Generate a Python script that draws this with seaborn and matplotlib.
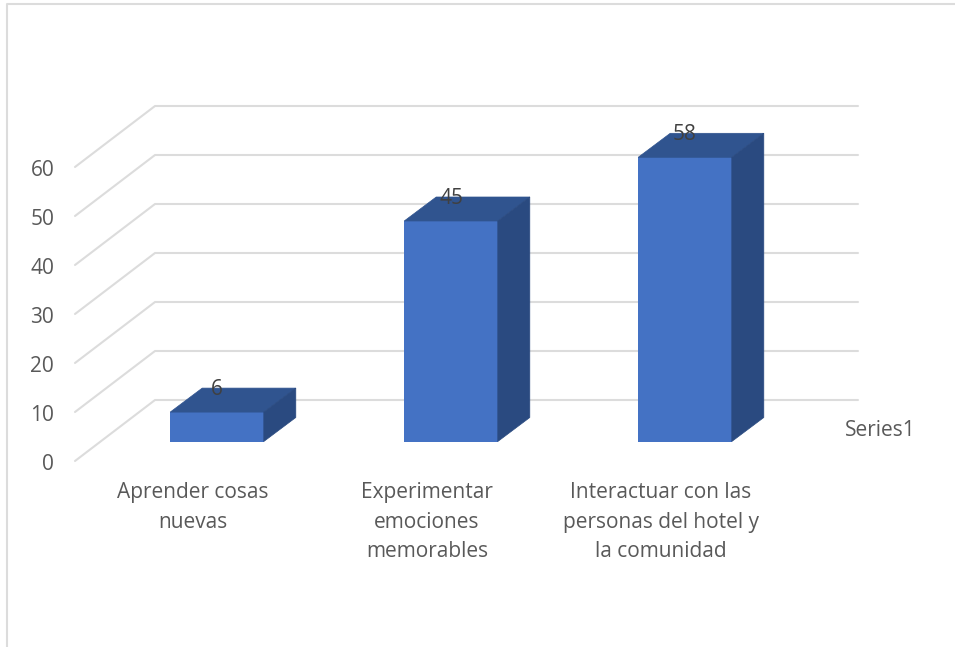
import matplotlib
matplotlib.use("Agg")
import matplotlib.pyplot as plt
import numpy as np
import pandas as pd
import seaborn as sns
from matplotlib.lines import Line2D
from matplotlib.patches import Polygon
from matplotlib.transforms import IdentityTransform, ScaledTranslation

categories = ["Aprender cosas\nnuevas", "Experimentar\nemociones\nmemorables",
              "Interactuar con las\npersonas del hotel y\nla comunidad"]
values = [6, 45, 58]
y_ticks = [0, 10, 20, 30, 40, 50, 60]
series_name = "Series1"

W, H = 955, 647
DPI = 100
FACE, TOP, SIDE = "#4472C4", "#30548F", "#2A4A80"
GRID, TEXT, LABEL = "#DCDCDC", "#595959", "#404040"
FS = 15

sns.set_theme(style="white")
plt.rcParams["font.family"] = ["Open Sans", "DejaVu Sans"]
plt.rcParams["font.size"] = FS

fig = plt.figure(figsize=(W / DPI, H / DPI), dpi=DPI)
left, right, bottom, top = 100, 802, 441.5, 147.5
ax = fig.add_axes([left / W, 1 - bottom / H, (right - left) / W, (bottom - top) / H])
df = pd.DataFrame({"categoria": categories, "valor": values})
sns.barplot(data=df, x="categoria", y="valor", color=FACE, saturation=1, width=0.4, ax=ax, zorder=3,
            linewidth=0, edgecolor=FACE)
ax.set_xlim(-0.5, 2.5)
ax.set_ylim(0, 60)
ax.set_xlabel("")
ax.set_ylabel("")
sns.despine(ax=ax, left=True, bottom=True)
ax.patch.set_alpha(0)


def project(x, v, dx=0.0, dy=0.0):
    """Data point moved in pixels along the depth of the 3-D scene."""
    return ax.transData.transform((x, v)) + np.array([dx, dy])


px = IdentityTransform()
x0, x1 = ax.get_xlim()
for v in y_ticks:
    pts = [project(x0, v, -25, -19.5), project(x0, v, 55, 41.5), project(x1, v, 56, 41.5)]
    ax.add_line(Line2D(*zip(*pts), transform=px, color=GRID, lw=1.5, zorder=1, clip_on=False))

# depth faces of each bar
depth = (32, 24)
for bar in ax.containers[0]:
    xa, xb = bar.get_x(), bar.get_x() + bar.get_width()
    h = bar.get_height()
    ax.add_patch(Polygon([project(xa, h), project(xb, h), project(xb, h, *depth), project(xa, h, *depth)],
                         closed=True, transform=px, fc=TOP, ec=TOP, lw=0.5, zorder=4, clip_on=False))
    ax.add_patch(Polygon([project(xb, 0), project(xb, h), project(xb, h, *depth), project(xb, 0, *depth)],
                         closed=True, transform=px, fc=SIDE, ec=SIDE, lw=0.5, zorder=4, clip_on=False))

ax.bar_label(ax.containers[0], labels=[str(v) for v in values], padding=8.5, color=LABEL, fontsize=FS, zorder=6)
for t in ax.texts:
    t.set_zorder(6)

ax.set_yticks(y_ticks)
ax.tick_params(axis="both", length=0, labelcolor=TEXT, labelsize=FS)
ax.tick_params(axis="y", pad=33)
ax.tick_params(axis="x", pad=29.5)
for lab in ax.get_yticklabels():
    lab.set_transform(lab.get_transform() + ScaledTranslation(0, -20.5 / DPI, fig.dpi_scale_trans))
for lab in ax.get_xticklabels():
    lab.set_transform(lab.get_transform() + ScaledTranslation(-24 / DPI, 0, fig.dpi_scale_trans))
    lab.set_linespacing(1.53)

fig.text(845 / W, 1 - 431 / H, series_name, color=TEXT, fontsize=FS, ha="left", va="center")

# chart-area border (top and left edges visible in the crop)
fig.add_artist(Line2D([7 / W, 7 / W, 1], [0, 1 - 4 / H, 1 - 4 / H], transform=fig.transFigure,
                      color=GRID, lw=1.5))

fig.savefig("out.png", dpi=DPI, facecolor="white")
